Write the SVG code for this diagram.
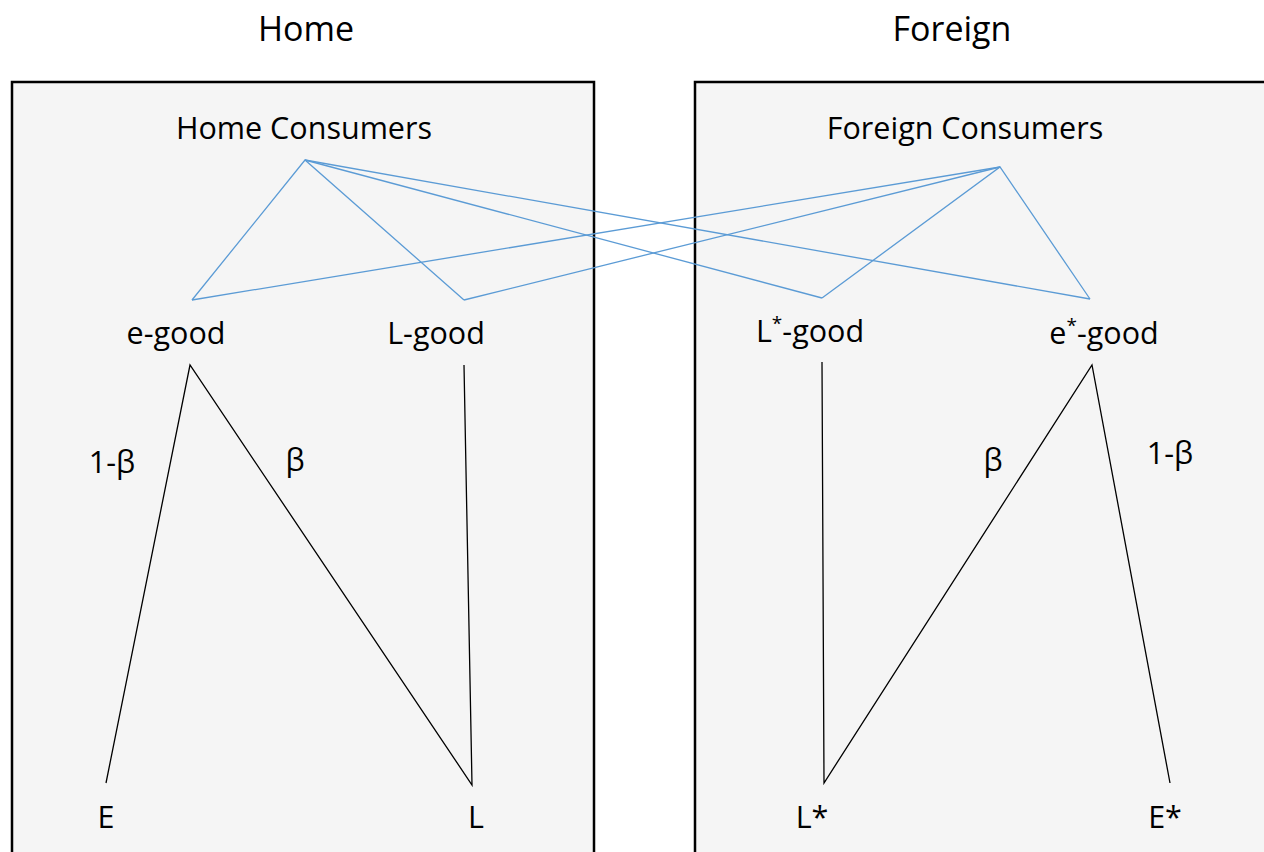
<svg xmlns="http://www.w3.org/2000/svg" width="1264" height="852" viewBox="0 0 1264 852">
<style>
.box{fill:#f5f5f5;stroke:#000;stroke-width:2.5}
.t{font-family:"Open Sans","Noto Sans",sans-serif;fill:#000;text-anchor:middle}
.title{font-size:34px}
.lbl{font-size:30.5px}
.blue{stroke:#5b9bd5;stroke-width:1.3;fill:none}
.blk{stroke:#000;stroke-width:1.3;fill:none}
</style>
<rect width="1264" height="852" fill="#fff"/>
<g id="home-box"><rect class="box" x="12" y="82" width="582" height="790"/></g>
<g id="foreign-box"><rect class="box" x="695" y="82" width="600" height="790"/></g>
<g id="home-title"><text class="t title" x="306" y="41">Home</text></g>
<g id="foreign-title"><text class="t title" x="952" y="41">Foreign</text></g>
<g id="connectors">
<polyline class="blue" points="192,300 305,160 464,300"/>
<line class="blue" x1="305" y1="160" x2="822" y2="298"/>
<line class="blue" x1="305" y1="160" x2="1090" y2="299"/>
<polyline class="blue" points="822,298 1000,167 1090,299"/>
<line class="blue" x1="1000" y1="167" x2="192" y2="300"/>
<line class="blue" x1="1000" y1="167" x2="464" y2="300"/>
<polyline class="blk" points="106,783 190,365 472,785 464,365"/>
<polyline class="blk" points="822,362 824,783 1092,365 1170,783"/>
</g>
<g id="home-consumers"><text class="t lbl" x="304" y="139">Home Consumers</text></g>
<g id="foreign-consumers"><text class="t lbl" x="965" y="139">Foreign Consumers</text></g>
<g id="e-good"><text class="t lbl" x="176" y="344">e-good</text></g>
<g id="L-good"><text class="t lbl" x="436" y="344">L-good</text></g>
<g id="Lstar-good"><text class="t lbl" x="810" y="342">L<tspan font-size="19" dy="-12">*</tspan><tspan dy="12">-good</tspan></text></g>
<g id="estar-good"><text class="t lbl" x="1104" y="344">e<tspan font-size="19" dy="-12">*</tspan><tspan dy="12">-good</tspan></text></g>
<g id="label-1b-home"><text class="t lbl" x="112" y="473">1-β</text></g>
<g id="label-b-home"><text class="t lbl" x="295" y="471">β</text></g>
<g id="label-b-foreign"><text class="t lbl" x="993" y="471">β</text></g>
<g id="label-1b-foreign"><text class="t lbl" x="1170" y="464">1-β</text></g>
<g id="E"><text class="t lbl" x="106" y="828">E</text></g>
<g id="L"><text class="t lbl" x="476" y="828">L</text></g>
<g id="Lstar"><text class="t lbl" x="812" y="828">L*</text></g>
<g id="Estar"><text class="t lbl" x="1165" y="828">E*</text></g>
</svg>
